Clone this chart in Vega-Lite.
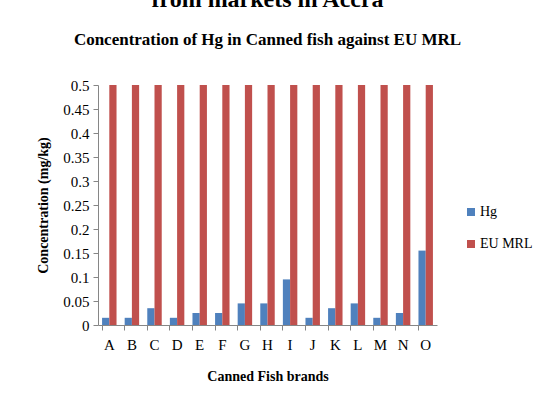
{
  "$schema": "https://vega.github.io/schema/vega-lite/v6.json",
  "autosize": "none",
  "width": 339,
  "height": 240,
  "padding": {"left": 98, "top": 85, "right": 103, "bottom": 78},
  "background": "white",
  "title": {
    "text": "from markets in Accra",
    "subtitle": "Concentration of Hg in Canned fish against EU MRL",
    "font": "Liberation Serif",
    "fontSize": 24,
    "fontWeight": "bold",
    "color": "black",
    "subtitleFont": "Liberation Serif",
    "subtitleFontSize": 17,
    "subtitleFontWeight": "bold",
    "subtitleColor": "black",
    "subtitlePadding": 20,
    "offset": 30,
    "anchor": "middle"
  },
  "data": {
    "values": [
      {"brand": "A", "series": "Hg", "value": 0.015},
      {"brand": "B", "series": "Hg", "value": 0.015},
      {"brand": "C", "series": "Hg", "value": 0.035},
      {"brand": "D", "series": "Hg", "value": 0.015},
      {"brand": "E", "series": "Hg", "value": 0.025},
      {"brand": "F", "series": "Hg", "value": 0.025},
      {"brand": "G", "series": "Hg", "value": 0.045},
      {"brand": "H", "series": "Hg", "value": 0.045},
      {"brand": "I", "series": "Hg", "value": 0.095},
      {"brand": "J", "series": "Hg", "value": 0.015},
      {"brand": "K", "series": "Hg", "value": 0.035},
      {"brand": "L", "series": "Hg", "value": 0.045},
      {"brand": "M", "series": "Hg", "value": 0.015},
      {"brand": "N", "series": "Hg", "value": 0.025},
      {"brand": "O", "series": "Hg", "value": 0.155},
      {"brand": "A", "series": "EU MRL", "value": 0.5},
      {"brand": "B", "series": "EU MRL", "value": 0.5},
      {"brand": "C", "series": "EU MRL", "value": 0.5},
      {"brand": "D", "series": "EU MRL", "value": 0.5},
      {"brand": "E", "series": "EU MRL", "value": 0.5},
      {"brand": "F", "series": "EU MRL", "value": 0.5},
      {"brand": "G", "series": "EU MRL", "value": 0.5},
      {"brand": "H", "series": "EU MRL", "value": 0.5},
      {"brand": "I", "series": "EU MRL", "value": 0.5},
      {"brand": "J", "series": "EU MRL", "value": 0.5},
      {"brand": "K", "series": "EU MRL", "value": 0.5},
      {"brand": "L", "series": "EU MRL", "value": 0.5},
      {"brand": "M", "series": "EU MRL", "value": 0.5},
      {"brand": "N", "series": "EU MRL", "value": 0.5},
      {"brand": "O", "series": "EU MRL", "value": 0.5}
    ]
  },
  "mark": {"type": "bar"},
  "encoding": {
    "x": {
      "field": "brand",
      "type": "nominal",
      "scale": {"paddingInner": 0.36, "paddingOuter": 0.18},
      "axis": {
        "title": "Canned Fish brands",
        "labelAngle": 0,
        "bandPosition": 0,
        "labelFont": "Liberation Serif",
        "labelFontSize": 15,
        "labelColor": "black",
        "labelPadding": 7,
        "labelAlign": "center",
        "tickSize": 5,
        "tickColor": "#868686",
        "domainColor": "#868686",
        "titleFont": "Liberation Serif",
        "titleFontSize": 14,
        "titleFontWeight": "bold",
        "titleColor": "black",
        "titlePadding": 17
      }
    },
    "xOffset": {"field": "series", "type": "nominal", "sort": ["Hg", "EU MRL"], "scale": {"paddingInner": 0}},
    "y": {
      "field": "value",
      "type": "quantitative",
      "scale": {"domain": [0, 0.5], "nice": false},
      "axis": {
        "title": "Concentration (mg/kg)",
        "values": [0, 0.05, 0.1, 0.15, 0.2, 0.25, 0.3, 0.35, 0.4, 0.45, 0.5],
        "format": "~g",
        "grid": false,
        "labelFont": "Liberation Serif",
        "labelFontSize": 15,
        "labelColor": "black",
        "labelPadding": 4,
        "tickSize": 5,
        "tickColor": "#868686",
        "domainColor": "#868686",
        "titleFont": "Liberation Serif",
        "titleFontSize": 14,
        "titleFontWeight": "bold",
        "titleColor": "black",
        "titlePadding": 12
      }
    },
    "color": {
      "field": "series",
      "type": "nominal",
      "sort": ["Hg", "EU MRL"],
      "scale": {"domain": ["Hg", "EU MRL"], "range": ["#4F81BD", "#C0504D"]},
      "legend": {
        "title": null,
        "orient": "none",
        "legendX": 366,
        "legendY": 120,
        "symbolType": "square",
        "symbolSize": 64,
        "symbolStrokeWidth": 0,
        "labelFont": "Liberation Serif",
        "labelFontSize": 14,
        "labelColor": "black",
        "rowPadding": 18,
        "labelOffset": 2
      }
    }
  },
  "config": {"view": {"stroke": null}}
}
